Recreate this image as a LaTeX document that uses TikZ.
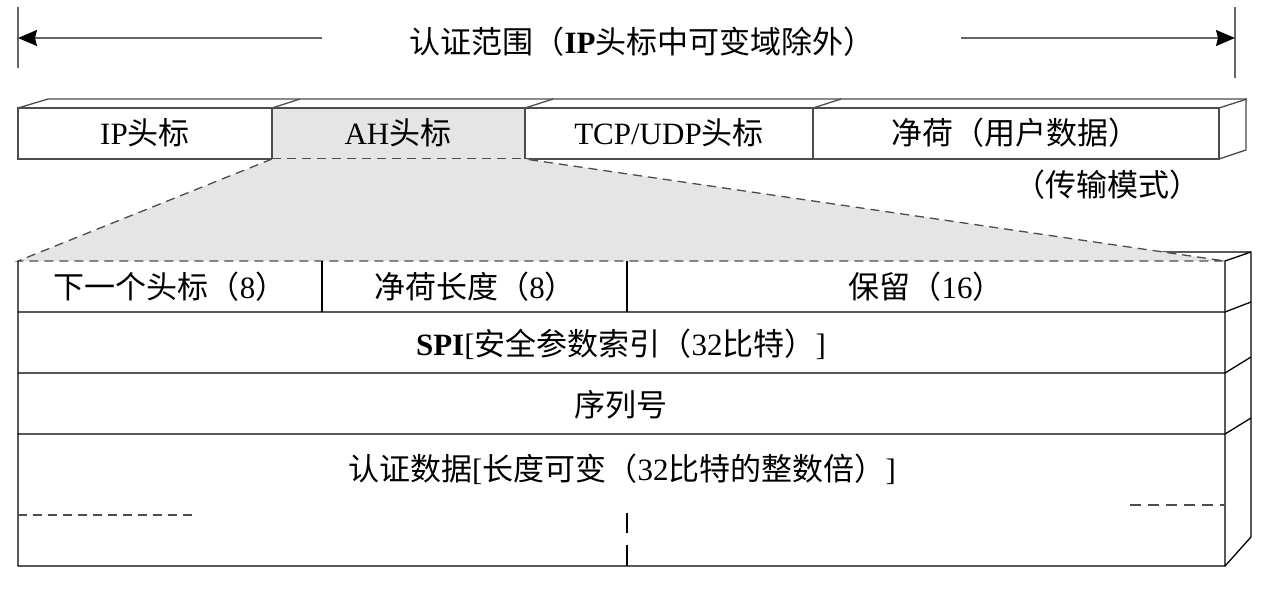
\documentclass[tikz,border=0pt]{standalone}
\usepackage{fontspec}
\setmainfont{Liberation Serif}
\newfontfamily\zhfont{Noto Sans CJK SC}
\newcommand{\zh}[1]{{\zhfont #1}}
\usetikzlibrary{arrows.meta}

\begin{document}
\begin{tikzpicture}[
  x=1pt, y=-1pt,
  >={Stealth[length=19pt,width=16pt,inset=2pt,color=black]},
  frame/.style={draw=black!70,line width=1.3pt},
  field/.style={draw=black,line width=1.3pt},
  lbl/.style={font=\fontsize{31}{36}\selectfont,inner sep=0pt},
  gap/.style={dash pattern=on 9pt off 6pt},
  shade/.style={fill=black!10}
]
  \useasboundingbox (0,0) rectangle (1267,595);

  % authentication range
  \node[lbl] (title) at (642,42) {\zh{认证范围（}\textbf{IP}\zh{头标中可变域除外）}};
  \coordinate (tickL) at (18,38);
  \coordinate (tickR) at (1235,38);
  \coordinate (stubL) at (322,38);
  \coordinate (stubR) at (961,38);
  \draw[black!60,line width=1.3pt] (18,7) -- (18,68);
  \draw[black!60,line width=1.3pt] (1235,7) -- (1235,78);
  \draw[->,black!60,line width=1.3pt] (stubL) -- (tickL);
  \draw[->,black!60,line width=1.3pt] (stubR) -- (tickR);

  % IP packet
  \fill[shade] (272,108) rectangle (525,159);
  \draw[frame] (272,159) -- (18,159) -- (18,108) -- (1219,108) -- (1219,159) -- (525,159);
  \draw[frame,gap] (272,159) -- (525,159);
  \draw[frame] (18,108) -- (48,99) -- (1246,99) -- (1246,150) -- (1219,159);
  \foreach \x in {272,525,813,1219}
    \draw[frame] (\x,108) -- ++(28,-9);
  \foreach \x in {272,525,813}
    \draw[frame] (\x,108) -- (\x,159);
  \node[lbl] (ip) at (145,133) {IP\zh{头标}};
  \node[lbl] (ah) at (398,133) {AH\zh{头标}};
  \node[lbl] (tcp) at (669,133) {TCP/UDP\zh{头标}};
  \node[lbl] (data) at (1015,133) {\zh{净荷（用户数据）}};
  \node[lbl] (mode) at (1107,185) {\zh{（传输模式）}};

  % AH header
  \draw[field] (44,252) -- (1251,252) -- (1251,537) -- (1225,566);
  \fill[shade] (272,159) -- (525,159) -- (1225,261) -- (18,261) -- cycle;
  \draw[frame,gap] (272,159) -- (18,261) -- (1225,261) -- (525,159);
  \draw[field] (18,261) -- (18,566) -- (1225,566) -- (1225,261) -- (1251,252);
  \foreach \y/\b in {312/302,373/357,434/418}
    \draw[field] (18,\y) -- (1225,\y) -- (1251,\b);
  \foreach \x in {322,627}
    \draw[field] (\x,261) -- (\x,312);
  \draw[frame,gap] (18,515) -- (196,515);
  \draw[frame,dash pattern=on 11pt off 7pt] (1130,505) -- (1225,505);
  \draw[black,line width=2pt] (627,513) -- (627,533);
  \draw[black,line width=2pt] (627,545) -- (627,566);

  \node[lbl] (next) at (170,287) {\zh{下一个头标（}8\zh{）}};
  \node[lbl] (len) at (475,287) {\zh{净荷长度（}8\zh{）}};
  \node[lbl] (rsv) at (926,287) {\zh{保留（}16\zh{）}};
  \node[lbl] (spi) at (621,344) {\textbf{SPI}[\zh{安全参数索引（}32\zh{比特）}]};
  \node[lbl] (seq) at (621,405) {\zh{序列号}};
  \node[lbl] (auth) at (622,469) {\zh{认证数据}[\zh{长度可变（}32\zh{比特的整数倍）}]};
\end{tikzpicture}
\end{document}
